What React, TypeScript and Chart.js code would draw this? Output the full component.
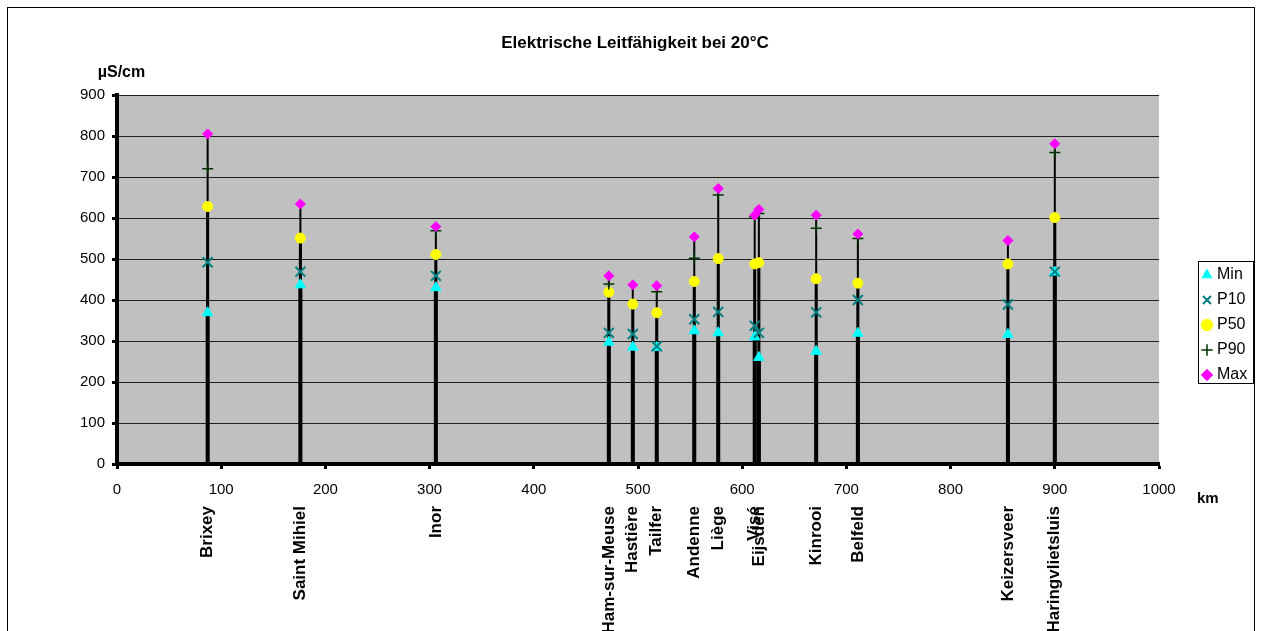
import React, { useEffect, useRef } from 'react';
import { Chart, registerables } from 'chart.js';

Chart.register(...registerables);

const FONT = "'Liberation Sans', Arial, Helvetica, sans-serif";

const titleText = 'Elektrische Leitfähigkeit bei 20°C';
const yUnit = 'µS/cm';
const xUnit = 'km';

const stations = [
  'Brixey', 'Saint Mihiel', 'Inor', 'Ham-sur-Meuse', 'Hastière', 'Tailfer', 'Andenne',
  'Liège', 'Visé', 'Eijsden', 'Kinrooi', 'Belfeld', 'Keizersveer', 'Haringvlietsluis',
];
const stationKm = [87, 176, 306, 472, 495, 518, 554, 577, 612, 616, 671, 711, 855, 900];

const minValues = [369, 437, 430, 297, 285, 284, 325, 320, 310, 260, 275, 319, 316, 468];
const p10Values = [492, 469, 459, 320, 317, 287, 353, 371, 337, 320, 370, 400, 389, 469];
const p50Values = [628, 551, 511, 419, 390, 369, 445, 501, 488, 491, 452, 441, 488, 601];
const p90Values = [720, null, 569, 439, null, 420, 502, 656, 603, 611, 575, 550, null, 760];
const maxValues = [805, 634, 579, 459, 437, 435, 554, 672, 607, 621, 607, 561, 545, 781];

const seriesNames = ['Min', 'P10', 'P50', 'P90', 'Max'];

const xMin = 0;
const xMax = 1000;
const xStep = 100;
const yMin = 0;
const yMax = 900;
const yStep = 100;

type Pt = { x: number; y: number | null };

function toPoints(values: (number | null)[]): Pt[] {
  return stationKm.map((x, i) => ({ x, y: values[i] }));
}

function toStems(values: (number | null)[]): Pt[] {
  const out: Pt[] = [];
  stationKm.forEach((x, i) => {
    const v = values[i];
    if (v == null) return;
    out.push({ x, y: 0 }, { x, y: v }, { x, y: null });
  });
  return out;
}

const framePlugin = {
  id: 'framePlugin',
  beforeDraw(chart: any) {
    const ctx = chart.ctx;
    const a = chart.chartArea;
    if (!a) return;
    ctx.save();
    ctx.fillStyle = '#ffffff';
    ctx.fillRect(0, 0, chart.width, chart.height);
    ctx.strokeStyle = '#000000';
    ctx.lineWidth = 1;
    ctx.strokeRect(7.5, 7.5, 1247, 700);
    ctx.fillStyle = '#C0C0C0';
    ctx.fillRect(a.left, a.top, a.right - a.left, a.bottom - a.top);
    ctx.fillStyle = '#000000';
    ctx.textBaseline = 'middle';
    ctx.textAlign = 'center';
    ctx.font = `bold 16px ${FONT}`;
    ctx.fillText(yUnit, a.left + 4.5, a.top - 22.5);
    ctx.textAlign = 'left';
    ctx.font = `bold 15px ${FONT}`;
    ctx.fillText(xUnit, a.right + 38, a.bottom + 35);
    ctx.restore();
    const lg = chart.legend;
    if (lg) {
      lg.left = a.right + 37;
      lg.right = chart.width;
      lg.top = a.top + 138;
      lg.bottom = a.top + 322;
    }
  },
  afterDraw(chart: any) {
    const ctx = chart.ctx;
    const a = chart.chartArea;
    if (!a) return;
    ctx.save();
    ctx.strokeStyle = '#000000';
    ctx.lineWidth = 1;
    ctx.strokeRect(Math.round(a.right + 39) + 0.5, Math.round(a.top + 167) - 0.5, 55, 122);
    ctx.restore();
  },
};

export default function App() {
  const canvasRef = useRef<HTMLCanvasElement | null>(null);

  useEffect(() => {
    const canvas = canvasRef.current;
    if (!canvas) return;
    const markerValues = [minValues, p10Values, p50Values, p90Values, maxValues];
    const markerStyles = [
      { pointStyle: 'triangle', radius: 6, color: '#00FFFF', fill: '#00FFFF', bw: 1 },
      { pointStyle: 'crossRot', radius: 7, color: '#008080', fill: '#008080', bw: 2 },
      { pointStyle: 'circle', radius: 5, color: '#FFFF00', fill: '#FFFF00', bw: 1 },
      { pointStyle: 'cross', radius: 5.5, color: '#003300', fill: '#003300', bw: 1.5 },
      { pointStyle: 'rectRot', radius: 5, color: '#FF00FF', fill: '#FF00FF', bw: 1 },
    ];
    const markerDatasets = markerValues.map((vals, k) => ({
      type: 'scatter',
      label: seriesNames[k],
      data: toPoints(vals),
      pointStyle: markerStyles[k].pointStyle,
      pointRadius: markerStyles[k].radius,
      pointHoverRadius: markerStyles[k].radius,
      backgroundColor: markerStyles[k].fill,
      borderColor: markerStyles[k].color,
      borderWidth: markerStyles[k].bw,
      showLine: false,
      order: 4 - k,
      xAxisID: 'x',
      yAxisID: 'y',
    }));
    const stemSpecs = [
      { values: maxValues, width: 2 },
      { values: p50Values, width: 3 },
      { values: minValues, width: 4 },
    ];
    const stemDatasets = stemSpecs.map((s, k) => ({
      type: 'scatter',
      label: 'stem' + k,
      data: toStems(s.values),
      showLine: true,
      spanGaps: false,
      borderColor: '#000000',
      backgroundColor: '#000000',
      borderWidth: s.width,
      pointRadius: 0,
      pointHoverRadius: 0,
      pointHitRadius: 0,
      fill: false,
      order: 10 + k,
      xAxisID: 'x',
      yAxisID: 'y',
    }));

    const chart = new Chart(canvas, {
      type: 'scatter',
      data: { datasets: [...markerDatasets, ...stemDatasets] as any },
      options: {
        responsive: false,
        animation: false,
        devicePixelRatio: 1,
        events: [],
        layout: { padding: { left: 8, right: 0, top: 0, bottom: 0 } },
        plugins: {
          title: {
            display: true,
            text: titleText,
            color: '#000000',
            font: { family: FONT, size: 17, weight: 'bold' },
            padding: { top: 33, bottom: 41.6 },
          },
          legend: {
            display: true,
            position: 'right',
            align: 'center',
            labels: {
              usePointStyle: true,
              boxWidth: 4,
              boxHeight: 8,
              padding: 9,
              color: '#000000',
              font: { family: FONT, size: 16 },
              filter: (item: any) => item.datasetIndex < 5,
              sort: (a: any, b: any) => a.datasetIndex - b.datasetIndex,
            },
          },
          tooltip: { enabled: false },
        },
        scales: {
          x: {
            type: 'linear',
            position: 'bottom',
            min: xMin,
            max: xMax,
            offset: false,
            weight: 0,
            ticks: {
              stepSize: xStep,
              color: '#000000',
              font: { family: FONT, size: 15 },
              padding: 12,
              maxRotation: 0,
              autoSkip: false,
              callback: (v: any) => String(v),
            },
            grid: {
              display: true,
              offset: false,
              drawOnChartArea: false,
              drawTicks: true,
              tickLength: 5,
              tickWidth: 3,
              tickColor: '#000000',
            },
            border: { display: true, color: '#000000', width: 4 },
            afterFit: (s: any) => { s.height = 36; },
          },
          xNames: {
            type: 'linear',
            position: 'bottom',
            min: xMin,
            max: xMax,
            offset: false,
            weight: 1,
            afterBuildTicks: (s: any) => { s.ticks = stationKm.map((v) => ({ value: v })); },
            ticks: {
              autoSkip: false,
              minRotation: 90,
              maxRotation: 90,
              padding: 6,
              color: '#000000',
              font: { family: FONT, size: 17, weight: 'bold' },
              callback: (_v: any, i: number) => stations[i],
            },
            grid: { display: false, drawTicks: false, offset: false },
            border: { display: false },
            afterFit: (s: any) => { s.height = 131; },
          },
          y: {
            type: 'linear',
            position: 'left',
            min: yMin,
            max: yMax,
            ticks: {
              stepSize: yStep,
              color: '#000000',
              font: { family: FONT, size: 15 },
              padding: 7,
              callback: (v: any) => String(v),
            },
            grid: {
              color: '#202020',
              lineWidth: 1,
              drawTicks: true,
              tickLength: 5,
              tickWidth: 3,
              tickColor: '#000000',
            },
            border: { display: true, color: '#000000', width: 4 },
            afterFit: (s: any) => { s.width = 109; },
          },
          yR: {
            type: 'linear',
            position: 'right',
            display: true,
            min: yMin,
            max: yMax,
            ticks: { display: false },
            grid: { display: false, drawTicks: false },
            border: { display: false },
            afterFit: (s: any) => {
              const lw = s.chart && s.chart.legend ? s.chart.legend.width || 0 : 0;
              s.width = Math.max(0, 103 - lw);
            },
          },
        },
      } as any,
      plugins: [framePlugin as any],
    });
    return () => chart.destroy();
  }, []);

  return (
    <div style={{ position: 'fixed', left: 0, top: 0, width: 1262, height: 631, background: '#fff' }}>
      <canvas ref={canvasRef} width={1262} height={631} style={{ width: 1262, height: 631, display: 'block' }} />
    </div>
  );
}
